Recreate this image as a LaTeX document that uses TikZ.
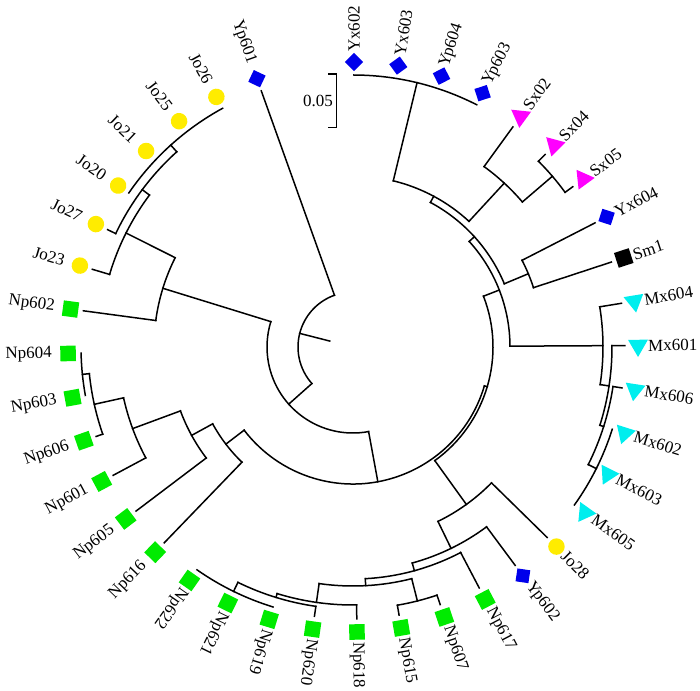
\documentclass[tikz,border=0pt]{standalone}
\usepackage{fontspec}
\setmainfont{Liberation Serif}
\usetikzlibrary{shapes.geometric}
\definecolor{npgreen}{RGB}{0,235,0}
\definecolor{joyellow}{RGB}{255,236,0}
\definecolor{yblue}{RGB}{0,0,235}
\definecolor{sxmagenta}{RGB}{255,0,255}
\definecolor{mxcyan}{RGB}{0,238,238}
% internal node: name, angle, parent radius, radius, arc from, arc to
\newcommand{\tnode}[6]{%
  \coordinate (#1) at (#2:#4);
  \draw[branch] (#2:#3) -- (#1);
  \draw[branch] (#5:#4) arc[start angle=#5, end angle=#6, radius=#4];}
\begin{document}
\begin{tikzpicture}[x=1pt,y=1pt]
    \tikzstyle{branch} = [line width=1.5pt, line cap=rect]
    \tikzstyle{taxon} = [inner sep=0pt, font=\fontsize{17}{19}\selectfont]
    \tikzstyle{sq} = [rectangle, minimum size=15.5pt, inner sep=0pt]
    \tikzstyle{dia} = [rectangle, minimum size=13pt, inner sep=0pt, rotate=45]
    \tikzstyle{cir} = [circle, minimum size=16.5pt, inner sep=0pt]
    \tikzstyle{tup} = [regular polygon, regular polygon sides=3, minimum size=23pt, inner sep=0pt]
    \tikzstyle{tdn} = [regular polygon, regular polygon sides=3, minimum size=23pt, inner sep=0pt, rotate=180]
    \useasboundingbox (-353,-343) rectangle (347,347);
    % root
    \tnode{R0}{-194.33}{24}{55}{-138.36}{-250.3}
    \tnode{N1}{-138.36}{55}{86}{-79.55}{-197.16}
    % Jo / Np602 clade
    \tnode{N2}{-197.16}{86}{199}{-187.65}{-206.67}
    \tnode{N3}{-206.67}{199}{254}{-196.6}{-216.74}
    \tnode{N4}{-216.74}{254}{263}{-205.55}{-227.925}
    \tnode{N5}{-227.925}{263}{272}{-214.5}{-241.35}
    % main clade
    \tnode{B0}{-79.55}{86}{137}{-16.48}{-142.62}
    \tnode{P5}{-142.62}{137}{160}{-133.95}{-151.29}
    \tnode{P4}{-151.29}{160}{184}{-142.9}{-159.68}
    \tnode{P3}{-159.68}{184}{235}{-151.85}{-167.51}
    \tnode{P2}{-167.51}{235}{265}{-160.8}{-174.225}
    \tnode{P1}{-174.225}{265}{272}{-169.75}{-178.7}
    \tnode{B1}{-16.48}{137}{140}{21.275}{-54.24}
    \tnode{N8}{-54.24}{140}{194}{-44.45}{-64.03}
    \tnode{N9}{-64.03}{194}{224}{-53.4}{-74.66}
    \tnode{N10}{-74.66}{224}{232}{-62.35}{-86.96}
    \tnode{Nd}{-86.96}{232}{239}{-75.775}{-98.15}
    \tnode{Ne}{-75.775}{239}{262}{-71.3}{-80.25}
    \tnode{Nc}{-98.15}{239}{258}{-89.2}{-107.1}
    \tnode{Nb}{-107.1}{258}{262}{-98.15}{-116.05}
    \tnode{Na}{-116.05}{262}{272}{-107.1}{-125}
    % Mx / Yx / Sx clade
    \tnode{Z2}{21.275}{140}{157}{42.25}{0.3}
    \tnode{M1}{0.3}{157}{250}{9.25}{-8.65}
    \tnode{M2}{-8.65}{250}{259}{0.3}{-17.6}
    \tnode{M3}{-17.6}{259}{263}{-8.65}{-26.55}
    \tnode{M4}{-26.55}{263}{272}{-17.6}{-35.5}
    \tnode{Z1}{42.25}{157}{164}{61.83}{22.675}
    \tnode{YS}{22.675}{164}{190}{27.15}{18.2}
    \tnode{Y2}{61.83}{164}{171}{76.375}{47.29}
    \tnode{Y1}{76.375}{171}{272}{89.8}{62.95}
    \tnode{S1}{47.29}{171}{223}{54}{40.575}
    \tnode{S2}{40.575}{223}{262.5}{45.05}{36.1}
    % leaves
    \foreach \i/\name/\sym/\col/\rp in {0/Yx602/dia/yblue/272, 1/Yx603/dia/yblue/272,
        2/Yp604/dia/yblue/272, 3/Yp603/dia/yblue/272, 4/Sx02/tup/sxmagenta/223,
        5/Sx04/tup/sxmagenta/262.5, 6/Sx05/tup/sxmagenta/262.5, 7/Yx604/dia/yblue/190,
        8/Sm1/sq/black/190, 9/Mx604/tdn/mxcyan/250, 10/Mx601/tdn/mxcyan/259,
        11/Mx606/tdn/mxcyan/263, 12/Mx602/tdn/mxcyan/272, 13/Mx603/tdn/mxcyan/272,
        14/Mx605/tdn/mxcyan/272, 15/Jo28/cir/joyellow/194, 16/Yp602/dia/yblue/224,
        17/Np617/sq/npgreen/232, 18/Np607/sq/npgreen/262, 19/Np615/sq/npgreen/262,
        20/Np618/sq/npgreen/258, 21/Np620/sq/npgreen/262, 22/Np619/sq/npgreen/272,
        23/Np621/sq/npgreen/272, 24/Np622/sq/npgreen/272, 25/Np616/sq/npgreen/160,
        26/Np605/sq/npgreen/184, 27/Np601/sq/npgreen/235, 28/Np606/sq/npgreen/265,
        29/Np603/sq/npgreen/272, 30/Np604/sq/npgreen/272, 31/Np602/sq/npgreen/199,
        32/Jo23/cir/joyellow/254, 33/Jo27/cir/joyellow/263, 34/Jo20/cir/joyellow/272,
        35/Jo21/cir/joyellow/272, 36/Jo25/cir/joyellow/272, 37/Jo26/cir/joyellow/272,
        38/Yp601/dia/yblue/55} {
        \pgfmathsetmacro{\a}{89.8-8.95*\i}
        \coordinate (t-\name) at (\a:272);
        \ifdim \rp pt<272pt \draw[branch] (\a:\rp) -- (t-\name); \fi
        \node[\sym, fill=\col, rotate=\a] (s-\name) at (\a:285) {};
        \ifdim \a pt<-130pt
            \node[taxon, anchor=east, rotate=\a+180] (l-\name) at (\a:301) {\name};
        \else
            \node[taxon, anchor=west, rotate=\a] (l-\name) at (\a:295) {\name};
        \fi
    }
    % scale bar
    \coordinate (bar-a) at (-24.7,273);
    \coordinate (bar-b) at (-24.7,219.3);
    \draw[branch, line cap=butt] (bar-a) -- ++(8.4,0) |- (bar-b);
    \node[taxon, anchor=east] (bar-l) at (-20,246.5) {0.05};
\end{tikzpicture}
\end{document}
